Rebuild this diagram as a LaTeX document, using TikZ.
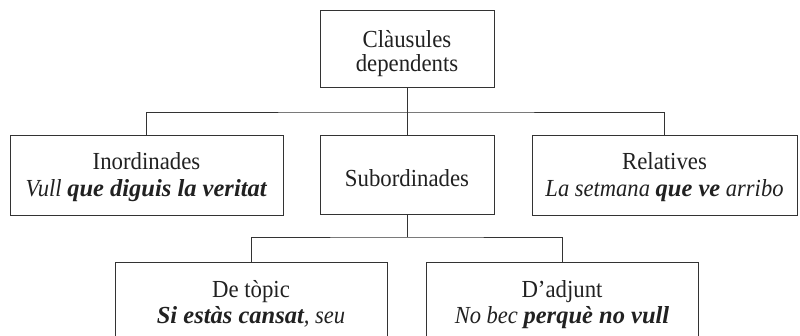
\documentclass[tikz,border=0pt]{standalone}
\usepackage{fontspec}
\setmainfont{Liberation Serif}[
  UprightFeatures={FakeStretch=0.93},
  ItalicFeatures={FakeStretch=0.92},
  BoldFeatures={FakeStretch=0.95},
  BoldItalicFeatures={FakeStretch=1.0}]
\newcommand{\topstrut}[1]{\rule{0pt}{#1}}
\newcommand{\botstrut}{\rule[-6pt]{0pt}{6pt}}
\begin{document}
\begin{tikzpicture}[x=1pt,y={(0pt,-1pt)},
  box/.style={draw=black!80, line width=0.9pt, rectangle, inner sep=0pt, align=center,
    text=black!87, font=\fontsize{24.5}{27}\selectfont},
  conn/.style={draw=black!80, line width=0.9pt}]
\useasboundingbox (0,0) rectangle (800,336);
\clip (0,0) rectangle (800,336);
\node[box, minimum width=174pt, minimum height=77pt] (top) at (407,48.5) {\topstrut{29pt}Clàusules\\[-3pt]dependents\botstrut};
\node[box, minimum width=273pt, minimum height=80pt] (ino) at (146.5,175) {\topstrut{23pt}Inordinades\\\textit{Vull \textbf{que diguis la veritat}}\botstrut};
\node[box, minimum width=174pt, minimum height=79pt] (sub) at (407,174.5) {\topstrut{25pt}Subordinades};
\node[box, minimum width=265pt, minimum height=80pt] (rel) at (664.5,175) {\topstrut{23pt}Relatives\\\textit{La setmana \textbf{que ve} arribo}\botstrut};
\node[box, minimum width=272pt, minimum height=80pt] (top2) at (251,302) {\topstrut{23pt}De tòpic\\\textit{\textbf{Si estàs cansat}, seu}\botstrut};
\node[box, minimum width=272pt, minimum height=80pt] (adj) at (562,302) {\topstrut{23pt}D’adjunt\\\textit{No bec \textbf{perquè no vull}}\botstrut};
\coordinate (bus1) at (407,112);
\coordinate (bus2) at (407,237);
\draw[conn] (top.south) -- (sub.north);
\draw[conn] (ino.north) |- (bus1) -| (rel.north);
\draw[conn] (sub.south) -- (bus2);
\draw[conn] (top2.north) |- (bus2) -| (adj.north);
\end{tikzpicture}
\end{document}
